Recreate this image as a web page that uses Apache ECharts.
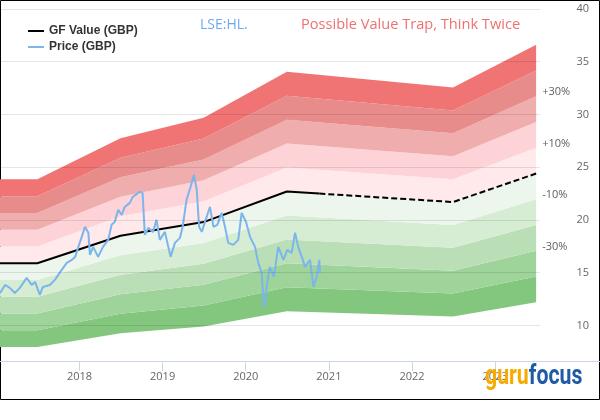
<!DOCTYPE html>
<html><head><meta charset="utf-8">
<script src="https://cdn.jsdelivr.net/npm/echarts@6/dist/echarts.min.js"></script>
<style>html,body{margin:0;padding:0;background:#fff}#c{width:600px;height:420px}</style>
</head><body><div id="c"></div>
<script>
// GF Value (GBP) vertices
const gfDates = ['2017-01-17','2017-06-30','2018-06-30','2019-06-30','2020-06-30','2022-06-30','2023-06-30'];
const gfValues = [15.9, 15.9, 18.5, 19.8, 22.7, 21.7, 24.4];
// split between past (solid) and projected (dashed)
const todayDate = '2020-11-20';
const gfToday = 22.5;

// Price (GBP)
const priceDates = ['2017-01-17','2017-02-08','2017-03-01','2017-03-23','2017-04-14','2017-05-14','2017-06-05','2017-06-20','2017-07-11','2017-07-24','2017-08-24','2017-09-15','2017-10-15','2017-11-06','2017-11-28','2017-12-13','2017-12-27','2018-01-11','2018-01-25','2018-02-09','2018-02-16','2018-03-02','2018-03-24','2018-04-14','2018-05-07','2018-05-22','2018-06-05','2018-06-20','2018-07-05','2018-07-19','2018-08-10','2018-08-23','2018-09-23','2018-10-05','2018-10-15','2018-10-30','2018-11-20','2018-12-05','2018-12-20','2019-01-11','2019-01-26','2019-02-05','2019-02-24','2019-03-18','2019-03-30','2019-04-16','2019-05-04','2019-05-18','2019-05-31','2019-06-10','2019-06-22','2019-07-06','2019-07-28','2019-08-12','2019-08-29','2019-09-17','2019-10-02','2019-10-16','2019-11-07','2019-11-29','2019-12-14','2020-01-02','2020-01-20','2020-02-11','2020-02-25','2020-03-11','2020-03-18','2020-03-25','2020-04-02','2020-04-16','2020-05-04','2020-05-23','2020-06-15','2020-07-02','2020-07-21','2020-08-05','2020-08-19','2020-09-04','2020-09-18','2020-10-10','2020-10-25','2020-11-08','2020-11-20','2020-11-23'];
const priceValues = [13.06,13.84,13.56,13.08,13.56,14.51,13.84,14.13,12.89,13.65,13.84,14.32,15.27,15.93,16.21,16.50,17.45,18.40,19.35,18.78,16.69,17.45,16.50,17.45,18.11,19.54,19.82,20.96,20.49,21.24,21.62,22.19,22.67,22.57,18.59,19.25,18.87,20.01,18.11,18.87,17.45,16.50,17.83,18.30,19.35,21.91,23.15,24.28,22.86,19.35,18.87,19.82,21.24,19.35,19.54,20.68,19.35,17.83,17.64,18.11,20.68,19.82,18.40,17.45,15.93,14.98,12.70,11.75,13.65,15.55,14.60,17.45,16.21,17.16,16.88,18.78,17.45,16.50,15.55,16.21,13.65,14.60,16.21,14.98];

// band steps (fraction of GF Value) and colours, bottom to top
const bandBase = 0.5;
const bandStep = 0.1;
const bandColors = ['#83c77f','#9ed39a','#badfb6','#d6ecd3','#ecf6ec','#ffe9eb','#fdd3d7','#f0adad','#e88b8b','#f07474'];
const bandLabels = ['+30%','+10%','-10%','-30%'];
const bandLabelFactors = [1.3, 1.1, 0.9, 0.7];

const yTicks = [10,15,20,25,30,35,40];
const xYears = [2017,2018,2019,2020,2021,2022,2023];
const xStart = '2017-01-17', xEnd = '2023-07-17';

// date string -> fractional year (for a linear value axis)
function fy(s){
  const p = s.split('-').map(Number);
  const t = Date.UTC(p[0],p[1]-1,p[2]);
  const a = Date.UTC(p[0],0,1), b = Date.UTC(p[0]+1,0,1);
  return p[0] + (t-a)/(b-a);
}

const series = [];
// bands: stacked areas, value first so the stack is applied to y
series.push({
  type:'line', stack:'band', encode:{x:1, y:0}, data: gfDates.map((d,i)=>[gfValues[i]*bandBase, fy(d)]),
  symbol:'none', lineStyle:{width:0, opacity:0}, silent:true, z:1
});
bandColors.forEach(c=>{
  series.push({
    type:'line', stack:'band', encode:{x:1, y:0}, data: gfDates.map((d,i)=>[gfValues[i]*bandStep, fy(d)]),
    symbol:'none', lineStyle:{width:0, opacity:0}, areaStyle:{color:c, opacity:1}, silent:true, z:1
  });
});
const splitIdx = gfDates.findIndex(d=>d>todayDate);
const solid = gfDates.slice(0,splitIdx).map((d,i)=>[fy(d),gfValues[i]]).concat([[fy(todayDate),gfToday]]);
const dashed = [[fy(todayDate),gfToday]].concat(gfDates.slice(splitIdx).map((d,i)=>[fy(d),gfValues[splitIdx+i]]));
series.push({name:'GF Value (GBP)', type:'line', data:solid, symbol:'none', lineStyle:{color:'#000', width:2}, itemStyle:{color:'#000'}, z:3});
series.push({name:'GF Value (GBP) ', type:'line', data:dashed, symbol:'none', lineStyle:{color:'#000', width:2, type:[6,3]}, z:3});
series.push({name:'Price (GBP)', type:'line', data:priceDates.map((d,i)=>[fy(d),priceValues[i]]), symbol:'none', lineStyle:{color:'#7cb5ec', width:2}, itemStyle:{color:'#7cb5ec'}, z:4});
const lastDate = gfDates[gfDates.length-1], lastGF = gfValues[gfValues.length-1];
series.push({
  type:'scatter', silent:true, symbolSize:0, itemStyle:{color:'rgba(0,0,0,0)'},
  data: bandLabels.map((t,i)=>[fy(lastDate), lastGF*bandLabelFactors[i], t]),
  label:{show:true, position:'right', distance:6, offset:[0,-4], formatter:p=>p.value[2], color:'#333', fontSize:11, fontFamily:'Open Sans'},
  z:5
});

const chart = echarts.init(document.getElementById('c'));
chart.setOption({
  animation:false,
  backgroundColor:'#fff',
  grid:{left:0, right:60, top:9, bottom:59},
  legend:{
    data:['GF Value (GBP)','Price (GBP)'], orient:'vertical', left:23, top:20, itemGap:4,
    icon:'rect', itemWidth:16, itemHeight:2, selectedMode:false,
    textStyle:{fontFamily:'Liberation Sans', fontWeight:'bold', fontSize:12, color:'#333'}
  },
  xAxis:{
    type:'value', min:fy(xStart), max:fy(xEnd),
    axisLine:{lineStyle:{color:'#ccd6eb'}},
    axisTick:{show:true, length:10, lineStyle:{color:'#ccd6eb'}, customValues: xYears},
    axisLabel:{customValues: xYears, formatter:v=>String(Math.round(v)), color:'#666', fontSize:11, fontFamily:'Open Sans', margin:10},
    splitLine:{show:false}
  },
  yAxis:{
    type:'value', position:'right', min:6.63, max:40, z:5,
    axisLine:{show:false},
    axisTick:{show:false, customValues:yTicks},
    axisLabel:{customValues:yTicks, color:'#666', fontSize:11, fontFamily:'Open Sans', align:'right', margin:49},
    splitLine:{show:true, lineStyle:{color:'rgba(0,0,0,0.1)', width:1}}
  },
  graphic:[
    {type:'line', shape:{x1:540, y1:361.5, x2:600, y2:361.5}, style:{stroke:'#ccd6eb', lineWidth:1}, z:10},
    {type:'text', x:200, y:25, style:{text:'LSE:HL.', font:'14px "Open Sans"', fill:'#6aaaf0', verticalAlign:'middle'}, z:10},
    {type:'text', x:301, y:25, style:{text:'Possible Value Trap, Think Twice', font:'14.6px "Open Sans"', fill:'#f07070', verticalAlign:'middle'}, z:10},
    {type:'text', x:485, y:377, scaleX:0.76, style:{text:'{a|guru}{b|focus}', font:'bold 28px Roboto', verticalAlign:'middle', rich:{a:{fill:'#f7aa00', font:'bold 28px Roboto'}, b:{fill:'#1f5aa6', font:'bold 28px Roboto'}}}, z:10},
    {type:'rect', shape:{x:0.5, y:0.5, width:599, height:399}, style:{fill:'none', stroke:'#000', lineWidth:1}, z:0}
  ],
  series: series
});
</script></body></html>
